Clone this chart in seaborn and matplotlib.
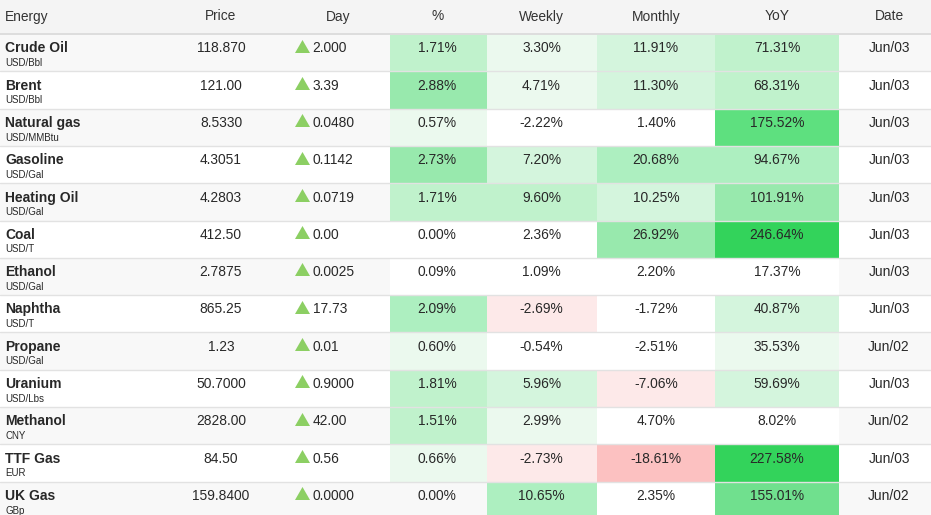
import numpy as np
import pandas as pd
import seaborn as sns
import matplotlib.pyplot as plt
from matplotlib.colors import ListedColormap

# table content
names = ["Crude Oil", "Brent", "Natural gas", "Gasoline", "Heating Oil", "Coal", "Ethanol",
         "Naphtha", "Propane", "Uranium", "Methanol", "TTF Gas", "UK Gas"]
units = ["USD/Bbl", "USD/Bbl", "USD/MMBtu", "USD/Gal", "USD/Gal", "USD/T", "USD/Gal",
         "USD/T", "USD/Gal", "USD/Lbs", "CNY", "EUR", "GBp"]
prices = ["118.870", "121.00", "8.5330", "4.3051", "4.2803", "412.50", "2.7875",
          "865.25", "1.23", "50.7000", "2828.00", "84.50", "159.8400"]
day_change = ["2.000", "3.39", "0.0480", "0.1142", "0.0719", "0.00", "0.0025",
              "17.73", "0.01", "0.9000", "42.00", "0.56", "0.0000"]
pct = [1.71, 2.88, 0.57, 2.73, 1.71, 0.00, 0.09, 2.09, 0.60, 1.81, 1.51, 0.66, 0.00]
weekly = [3.30, 4.71, -2.22, 7.20, 9.60, 2.36, 1.09, -2.69, -0.54, 5.96, 2.99, -2.73, 10.65]
monthly = [11.91, 11.30, 1.40, 20.68, 10.25, 26.92, 2.20, -1.72, -2.51, -7.06, 4.70, -18.61, 2.35]
yoy = [71.31, 68.31, 175.52, 94.67, 101.91, 246.64, 17.37, 40.87, 35.53, 59.69, 8.02, 227.58, 155.01]
dates = ["Jun/03", "Jun/03", "Jun/03", "Jun/03", "Jun/03", "Jun/03", "Jun/03",
         "Jun/03", "Jun/02", "Jun/03", "Jun/02", "Jun/03", "Jun/02"]
headers = ["Energy", "Price", "Day", "%", "Weekly", "Monthly", "YoY", "Date"]

sns.set_theme(style="white")
plt.rcParams["font.family"] = ["Liberation Sans", "DejaVu Sans"]

W, H = 931, 515
HEAD = 34
ROW = 37.3
n = len(names)
tops = HEAD + ROW * np.arange(n)
TXT = "#282828"

fig = plt.figure(figsize=(W / 100, H / 100), dpi=100)
fig.patch.set_facecolor("white")

# row stripes
bg = fig.add_axes([0, 0, 1, 1], zorder=0)
bg.set_xlim(0, W)
bg.set_ylim(H, 0)
bg.axis("off")
bg.axhspan(0, HEAD, color="#f4f4f4", lw=0)
for i, t in enumerate(tops):
    if i % 2 == 0:
        bg.axhspan(t, t + ROW, color="#f8f8f8", lw=0)

# coloured change columns, one heatmap each
change = pd.DataFrame({"%": pct, "Weekly": weekly, "Monthly": monthly, "YoY": yoy}, index=names)
step = {"%": 0.5, "Weekly": 2.5, "Monthly": 5, "YoY": 20}
edges = {"%": (390, 487), "Weekly": (487, 597), "Monthly": (597, 715), "YoY": (715, 839)}
shades = ["#fba9a9", "#fcc1c1", "#fdd5d5", "#fde9e9", "#ffffff",
          "#ebf9ee", "#d4f5dd", "#c0f2cc", "#adefc0", "#98e9ad", "#84e59e",
          "#70e08e", "#5ee07f", "#4fdb72", "#42d767", "#33d35b", "#33d35b"]
cmap = ListedColormap(shades)
for col in change.columns:
    x0, x1 = edges[col]
    hax = fig.add_axes([x0 / W, 1 - (HEAD + n * ROW) / H, (x1 - x0) / W, n * ROW / H], zorder=1)
    level = np.trunc(change[[col]] / step[col]).clip(-4, 12)
    sns.heatmap(level, ax=hax, cmap=cmap, vmin=-4.5, vmax=12.5, cbar=False,
                mask=change[[col]] == 0, xticklabels=False, yticklabels=False)
    hax.axis("off")

# lines and text on top
ax = fig.add_axes([0, 0, 1, 1], zorder=2)
ax.set_xlim(0, W)
ax.set_ylim(H, 0)
ax.axis("off")
ax.axhline(HEAD, color="#dddddd", lw=1.4)
for t in tops[1:]:
    ax.axhline(t, color="#e2e2e2", lw=1.0)

head_pos = [(5, "left"), (221, "center"), (338, "center"), (438, "center"),
            (541.5, "center"), (656, "center"), (777, "center"), (889, "center")]
for label, (x, ha) in zip(headers, head_pos):
    ax.text(x, 20.5, label, ha=ha, va="baseline", fontsize=9.9, color="#333333")

for i, t in enumerate(tops):
    base = t + 18.4
    ax.text(5, base, names[i], ha="left", va="baseline", fontsize=10, fontweight="bold", color=TXT)
    ax.text(5, t + 32, units[i], ha="left", va="baseline", fontsize=7, color=TXT)
    ax.text(221, base, prices[i], ha="center", va="baseline", fontsize=9.9, color=TXT)
    ax.text(312.5, base, day_change[i], ha="left", va="baseline", fontsize=9.9, color=TXT)
    ax.text(456.7, base, f"{pct[i]:.2f}%", ha="right", va="baseline", fontsize=9.9, color=TXT)
    ax.text(541.5, base, f"{weekly[i]:.2f}%", ha="center", va="baseline", fontsize=9.9, color=TXT)
    ax.text(656, base, f"{monthly[i]:.2f}%", ha="center", va="baseline", fontsize=9.9, color=TXT)
    ax.text(777, base, f"{yoy[i]:.2f}%", ha="center", va="baseline", fontsize=9.9, color=TXT)
    ax.text(889, base, dates[i], ha="center", va="baseline", fontsize=9.9, color=TXT)

# up arrows in the Day column
tri = [(-1, -0.8667), (1, -0.8667), (0, 0.8667)]
ax.plot(np.full(n, 301.5), tops + 11.7, ls="none", marker=tri, ms=10.8,
        mew=0, color="#8ccf63")

fig.savefig("out.png", dpi=100)
